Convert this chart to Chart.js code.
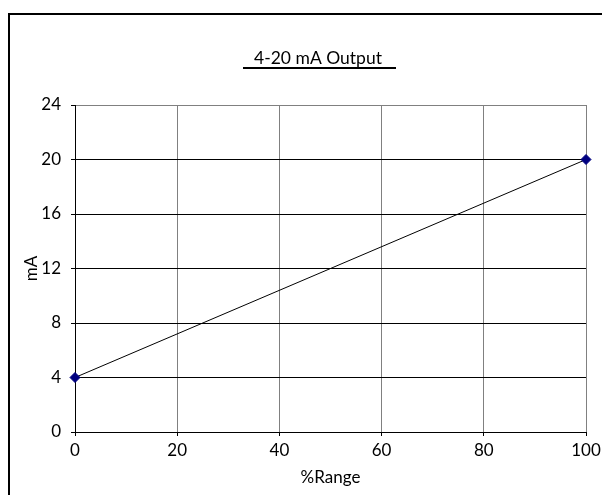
<!DOCTYPE html>
<html>
<head>
<meta charset="utf-8">
<script src="https://cdn.jsdelivr.net/npm/chart.js@4.4.0/dist/chart.umd.min.js"></script>
<style>
  html, body { margin: 0; padding: 0; background: #fff; }
  #wrap { width: 602px; height: 495px; position: relative; }
</style>
</head>
<body>
<div id="wrap"><canvas id="c" width="602" height="495"></canvas></div>
<script>
// data
const rangePct = [0, 100];
const outputMa = [4, 20];
const titleText = '4-20 mA Output';
const xTitle = '%Range';
const yTitle = 'mA';

const FONT = "Lato, 'Open Sans', sans-serif";

// outer frame (top + left edge only visible) and underlined title
const framePlugin = {
  id: 'frame',
  afterDraw(chart) {
    const ctx = chart.ctx;
    ctx.save();
    ctx.strokeStyle = '#000';
    ctx.lineWidth = 2;
    ctx.beginPath();
    ctx.moveTo(9, 500);
    ctx.lineTo(9, 14);
    ctx.lineTo(610, 14);
    ctx.stroke();

    ctx.font = '17.5px ' + FONT;
    ctx.fillStyle = '#000';
    ctx.textAlign = 'center';
    ctx.textBaseline = 'alphabetic';
    ctx.fillText(titleText, 318, 64);
    ctx.lineWidth = 2;
    ctx.beginPath();
    ctx.moveTo(243, 68);
    ctx.lineTo(396, 68);
    ctx.stroke();
    ctx.restore();
  }
};

new Chart(document.getElementById('c'), {
  type: 'scatter',
  data: {
    datasets: [{
      data: rangePct.map((x, i) => ({ x, y: outputMa[i] })),
      showLine: true,
      clip: false,
      borderColor: '#000',
      borderWidth: 1,
      pointStyle: 'rectRot',
      pointRadius: 5,
      pointBackgroundColor: '#000080',
      pointBorderColor: '#000080',
      pointBorderWidth: 1,
    }],
  },
  options: {
    responsive: false,
    animation: false,
    devicePixelRatio: 1,
    layout: { padding: { left: 18, right: 16, top: 105, bottom: 0 } },
    plugins: { legend: { display: false }, tooltip: { enabled: false } },
    scales: {
      x: {
        type: 'linear', min: 0, max: 100,
        // let the "100" label run off the edge like the original
        afterFit: s => { s.height = 63; s.paddingRight = 0; s.paddingLeft = 0; },
        ticks: { stepSize: 20, color: '#000', font: { family: FONT, size: 17 }, padding: 4, maxRotation: 0 },
        grid: { color: '#808080', tickColor: '#000', tickLength: 4 },
        border: { color: '#000', width: 1 },
        title: { display: true, text: xTitle, color: '#000', font: { family: FONT, size: 17 }, padding: { top: 0, bottom: 7 } },
      },
      y: {
        type: 'linear', min: 0, max: 24,
        afterFit: s => { s.width = 57; },
        ticks: { stepSize: 4, color: '#000', font: { family: FONT, size: 17 }, padding: 10 },
        grid: { color: c => (c.tick && c.tick.value === 24 ? '#808080' : '#000'), tickColor: '#000', tickLength: 4 },
        border: { color: '#000', width: 1 },
        title: { display: true, text: yTitle, color: '#000', font: { family: FONT, size: 17 }, padding: { top: 3, bottom: 0 } },
      },
    },
  },
  plugins: [framePlugin],
});
</script>
</body>
</html>
